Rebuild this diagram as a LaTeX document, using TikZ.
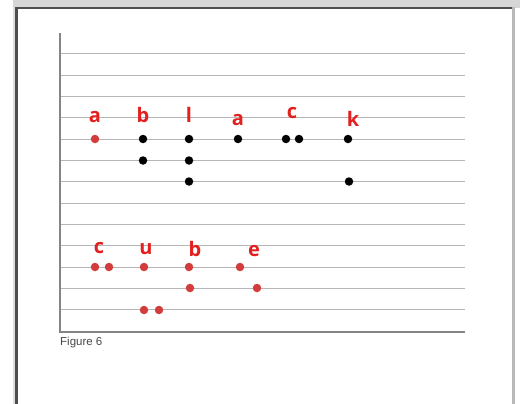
\documentclass[tikz,border=0pt]{standalone}
\usepackage{fontspec}
\setmainfont{Liberation Sans}
\newfontfamily\lblfont{Open Sans}
\definecolor{lbl}{HTML}{E3201F}
\definecolor{rdot}{HTML}{D23C3C}
\definecolor{gline}{HTML}{B6B6B6}
\definecolor{axis}{HTML}{858585}
\definecolor{frame}{HTML}{4E4E4E}
\definecolor{topgray}{HTML}{D6D6D6}
\tikzset{
  bdot/.style={circle,fill=black,inner sep=0pt,minimum size=8.5pt},
  rd/.style={circle,fill=rdot,inner sep=0pt,minimum size=8.5pt},
  lab/.style={anchor=base,text=lbl,font=\lblfont\bfseries\fontsize{20}{20}\selectfont,inner sep=0pt},
  staff/.style={draw=gline,line width=1pt},
}
\begin{document}
\begin{tikzpicture}[x=1pt,y=-1pt]
\useasboundingbox (0,0) rectangle (520,404);
\fill[white] (0,0) rectangle (520,404);
% window frame
\fill[topgray] (13,0) rectangle (520,8);
\fill[topgray!80] (13,8) rectangle (15,404);
\fill[frame] (15,7) rectangle (17.5,404);
\fill[frame] (15,7) rectangle (512,9.5);
\fill[gray!55] (512,7) rectangle (515,404);
% staff lines
\foreach \k in {0,...,12} {
  \draw[staff] (60,{54+21.33*\k}) -- (465,{54+21.33*\k});
}
\draw[axis,line width=1.6pt] (60,33) -- (60,331.5);
\draw[axis,line width=2pt] (59.2,331.5) -- (465,331.5);
% top row labels
\node[lab] (la1) at (95,123) {a};
\node[lab] (lb1) at (143,122) {b};
\node[lab] (ll1) at (189,122) {l};
\node[lab] (la2) at (238,125) {a};
\node[lab] (lc1) at (292,118) {c};
\node[lab] (lk1) at (353,127) {k};
% top row dots
\node[rd] (d1) at (95,139) {};
\node[bdot] (d2) at (143,139) {};
\node[bdot] (d3) at (143,160.5) {};
\node[bdot] (d4) at (189,139) {};
\node[bdot] (d5) at (189,160.5) {};
\node[bdot] (d6) at (189,181.5) {};
\node[bdot] (d7) at (238,139) {};
\node[bdot] (d8) at (286,139) {};
\node[bdot] (d9) at (299,139) {};
\node[bdot] (d10) at (348,139) {};
\node[bdot] (d11) at (349,181.5) {};
% bottom group labels
\node[lab] (lc2) at (99,253) {c};
\node[lab] (lu2) at (146,254) {u};
\node[lab] (lb2) at (195,256) {b};
\node[lab] (le2) at (254,256) {e};
% bottom group dots
\node[rd] (e1) at (95,267) {};
\node[rd] (e2) at (109,267) {};
\node[rd] (e3) at (144,267) {};
\node[rd] (e4) at (144,310) {};
\node[rd] (e5) at (159,310) {};
\node[rd] (e6) at (189,267) {};
\node[rd] (e7) at (190,288) {};
\node[rd] (e8) at (240,267) {};
\node[rd] (e9) at (257,288) {};
% caption
\node[anchor=base west,inner sep=0pt,text=black!72,font=\fontsize{11.5}{12}\selectfont] (cap) at (60,345) {Figure 6};
\end{tikzpicture}
\end{document}
